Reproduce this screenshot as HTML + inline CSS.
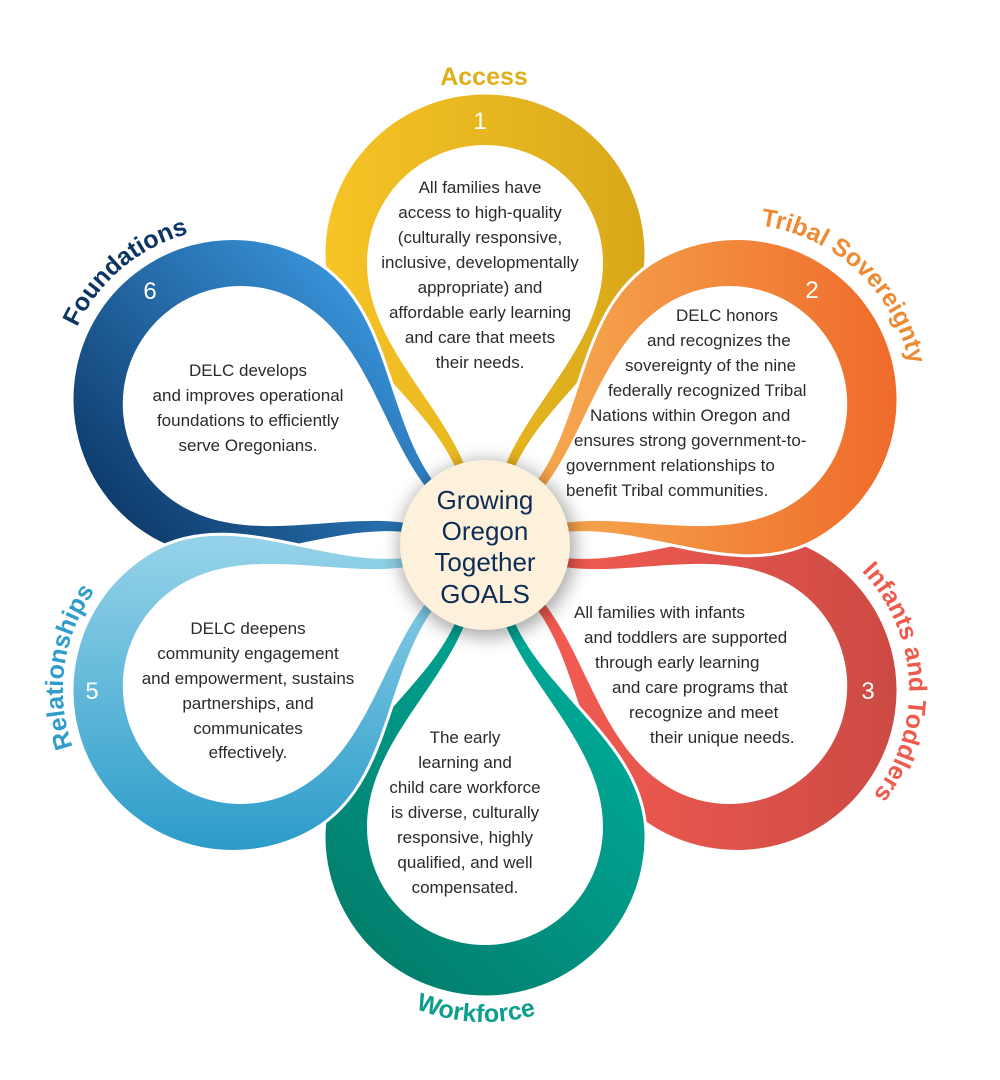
<!DOCTYPE html>
<html><head><meta charset="utf-8"><style>
html,body{margin:0;padding:0;background:#fff;}
svg{display:block;}
.b{font-family:"Liberation Sans",sans-serif;font-size:17px;fill:#2a2a2a;}
.lab{font-family:"Liberation Sans",sans-serif;font-size:25px;font-weight:bold;}
.num{font-family:"Liberation Sans",sans-serif;font-size:24px;fill:#fff;}
</style></head><body>
<svg width="1000" height="1080" viewBox="0 0 1000 1080" xmlns="http://www.w3.org/2000/svg">
<defs>
<linearGradient id="gA" gradientUnits="userSpaceOnUse" x1="-160" y1="-290" x2="160" y2="-290"><stop offset="0" stop-color="#f6c425"/><stop offset="1" stop-color="#d9a81a"/></linearGradient>
<linearGradient id="gT" gradientUnits="userSpaceOnUse" x1="90" y1="0" x2="415" y2="0" gradientTransform="rotate(-60)"><stop offset="0" stop-color="#f5a34c"/><stop offset="1" stop-color="#ef6a2a"/></linearGradient>
<linearGradient id="gI" gradientUnits="userSpaceOnUse" x1="90" y1="0" x2="415" y2="0" gradientTransform="rotate(-120)"><stop offset="0" stop-color="#f05a50"/><stop offset="1" stop-color="#cc4a44"/></linearGradient>
<linearGradient id="gW" gradientUnits="userSpaceOnUse" x1="160" y1="160" x2="-120" y2="450" gradientTransform="rotate(-180)"><stop offset="0" stop-color="#00ab9a"/><stop offset="1" stop-color="#037a68"/></linearGradient>
<linearGradient id="gR" gradientUnits="userSpaceOnUse" x1="0" y1="0" x2="0" y2="310" gradientTransform="rotate(-240)"><stop offset="0" stop-color="#93d2e8"/><stop offset="1" stop-color="#2a9bc9"/></linearGradient>
<linearGradient id="gF" gradientUnits="userSpaceOnUse" x1="-85" y1="-285" x2="-385" y2="-15" gradientTransform="rotate(-300)"><stop offset="0" stop-color="#3fa0ea"/><stop offset="1" stop-color="#0b3564"/></linearGradient>
<path id="outer" d="M -28,-70 C -60,-150 -161,-200 -161,-291 A 161 161 0 1 1 161,-291 C 161,-200 60,-150 28,-70 Z"/>
<path id="inner" d="M -17,-70 C -40,-140 -118,-200 -118,-282 A 118 118 0 1 1 118,-282 C 118,-200 40,-140 17,-70 Z"/>
<filter id="sh" x="-50%" y="-50%" width="200%" height="200%"><feGaussianBlur stdDeviation="9"/></filter>
<path id="pT" d="M676.8,234.6 A176,176 0 0 1 906.2,448.5"/>
<path id="pI" d="M807,532.8 A172,172 0 0 1 823,839"/>
<path id="pR" d="M135.4,829.2 A170,170 0 0 1 177.6,529.2"/>
<path id="pF" d="M65.4,438.7 A172,172 0 0 1 300.2,241.6"/>
<path id="pW" d="M323.9,929 A186,186 0 0 0 635.5,945.3"/>
</defs>

<g transform="translate(485,545)">
 <g><use href="#outer" fill="url(#gA)" stroke="#fff" stroke-width="3"/><use href="#inner" fill="#fff"/></g>
 <g transform="rotate(120)"><use href="#outer" fill="url(#gI)" stroke="#fff" stroke-width="3"/><use href="#inner" fill="#fff"/></g>
 <g transform="rotate(180)"><use href="#outer" fill="url(#gW)" stroke="#fff" stroke-width="3"/><use href="#inner" fill="#fff"/></g>
 <g transform="rotate(300)"><use href="#outer" fill="url(#gF)" stroke="#fff" stroke-width="3"/><use href="#inner" fill="#fff"/></g>
 <g transform="rotate(60)"><use href="#outer" fill="url(#gT)" stroke="#fff" stroke-width="3"/><use href="#inner" fill="#fff"/></g>
 <g transform="rotate(240)"><use href="#outer" fill="url(#gR)" stroke="#fff" stroke-width="3"/><use href="#inner" fill="#fff"/></g>
</g>

<circle cx="487" cy="549" r="88" fill="#000" opacity="0.35" filter="url(#sh)"/>
<circle cx="485" cy="545" r="85" fill="#fdf1dc"/>
<g font-family="Liberation Sans, sans-serif" font-size="26" fill="#0d2d57" text-anchor="middle">
<text x="485" y="509">Growing</text>
<text x="485" y="540">Oregon</text>
<text x="485" y="571">Together</text>
<text x="485" y="603">GOALS</text>
</g>

<text class="lab" x="484" y="85" fill="#e0b01c" text-anchor="middle">Access</text>
<text class="lab" fill="#ee8a33"><textPath href="#pT" startOffset="50%" text-anchor="middle">Tribal Sovereignty</textPath></text>
<text class="lab" fill="#ee5a4c"><textPath href="#pI" startOffset="50%" text-anchor="middle">Infants and Toddlers</textPath></text>
<text class="lab" fill="#0e9f8c"><textPath href="#pW" startOffset="50%" text-anchor="middle">Workforce</textPath></text>
<text class="lab" fill="#2f9ccc"><textPath href="#pR" startOffset="50%" text-anchor="middle">Relationships</textPath></text>
<text class="lab" fill="#0d3563"><textPath href="#pF" startOffset="50%" text-anchor="middle">Foundations</textPath></text>

<text class="num" x="480" y="129" text-anchor="middle">1</text>
<text class="num" x="812" y="298" text-anchor="middle">2</text>
<text class="num" x="868" y="699" text-anchor="middle">3</text>
<text class="num" x="92" y="699" text-anchor="middle">5</text>
<text class="num" x="150" y="299" text-anchor="middle">6</text>

<g class="b" text-anchor="middle">
<text x="480" y="193">All families have</text>
<text x="480" y="218">access to high-quality</text>
<text x="480" y="243">(culturally responsive,</text>
<text x="480" y="268">inclusive, developmentally</text>
<text x="480" y="293">appropriate) and</text>
<text x="480" y="318">affordable early learning</text>
<text x="480" y="343">and care that meets</text>
<text x="480" y="368">their needs.</text>

<text x="465" y="743">The early</text>
<text x="465" y="768">learning and</text>
<text x="465" y="793">child care workforce</text>
<text x="465" y="818">is diverse, culturally</text>
<text x="465" y="843">responsive, highly</text>
<text x="465" y="868">qualified, and well</text>
<text x="465" y="893">compensated.</text>

<text x="248" y="634">DELC deepens</text>
<text x="248" y="659">community engagement</text>
<text x="248" y="684">and empowerment, sustains</text>
<text x="248" y="709">partnerships, and</text>
<text x="248" y="734">communicates</text>
<text x="248" y="758">effectively.</text>

<text x="248" y="376">DELC develops</text>
<text x="248" y="401">and improves operational</text>
<text x="248" y="426">foundations to efficiently</text>
<text x="248" y="451">serve Oregonians.</text>
</g>
<g class="b">
<text x="676" y="321">DELC honors</text>
<text x="647" y="346">and recognizes the</text>
<text x="625" y="371">sovereignty of the nine</text>
<text x="608" y="396">federally recognized Tribal</text>
<text x="590" y="421">Nations within Oregon and</text>
<text x="574" y="446">ensures strong government-to-</text>
<text x="566" y="471">government relationships to</text>
<text x="566" y="496">benefit Tribal communities.</text>

<text x="574" y="618">All families with infants</text>
<text x="584" y="643">and toddlers are supported</text>
<text x="595" y="668">through early learning</text>
<text x="612" y="693">and care programs that</text>
<text x="629" y="718">recognize and meet</text>
<text x="650" y="743">their unique needs.</text>
</g>
</svg>
</body></html>
